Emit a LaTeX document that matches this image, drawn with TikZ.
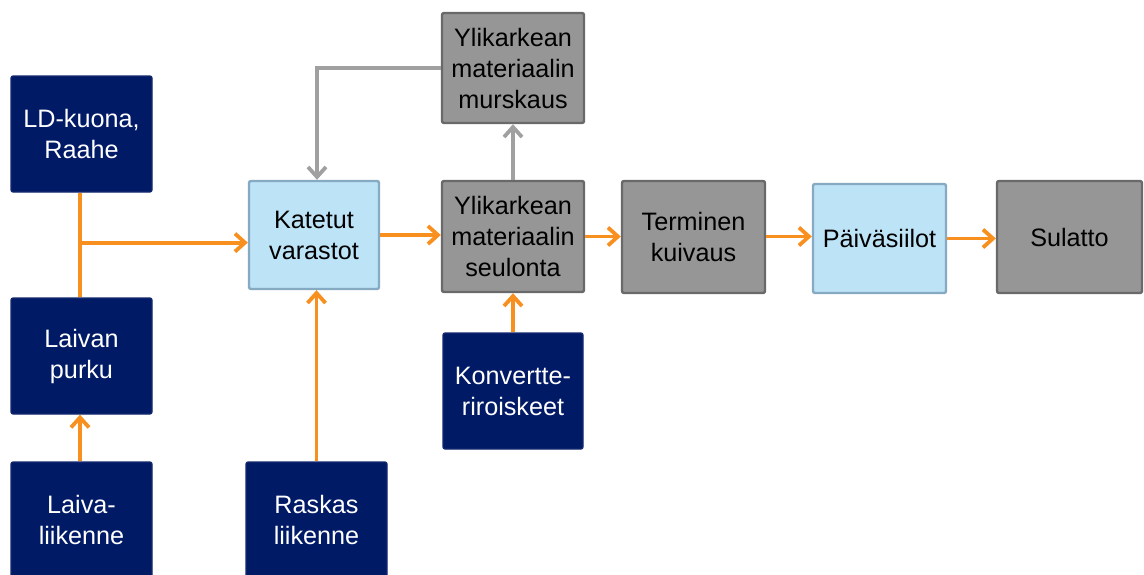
\documentclass[tikz,border=0pt]{standalone}
\usepackage{fontspec}
\setmainfont{Liberation Sans}
\usetikzlibrary{arrows.meta}
\definecolor{navy}{RGB}{0,26,102}
\definecolor{navyedge}{RGB}{20,40,110}
\definecolor{lblue}{RGB}{189,227,247}
\definecolor{lblueedge}{RGB}{135,170,195}
\definecolor{gbox}{RGB}{150,150,150}
\definecolor{gedge}{RGB}{105,105,105}
\definecolor{orangeline}{RGB}{247,144,30}
\definecolor{grayline}{RGB}{160,160,160}
\tikzset{
  basebox/.style={rectangle, rounded corners=1pt, align=center, inner sep=0pt,
    font=\fontsize{12.6}{15.5}\selectfont},
  navybox/.style={basebox, fill=navy, draw=navyedge, line width=0.6pt, text=white},
  bluebox/.style={basebox, fill=lblue, draw=lblueedge, line width=1.2pt, text=black},
  graybox/.style={basebox, fill=gbox, draw=gedge, line width=1.2pt, text=black},
  oarrow/.style={draw=orangeline, line width=1.9pt, -{Straight Barb[length=5pt,width=9pt,line width=1.9pt]}},
  oline/.style={draw=orangeline, line width=1.9pt},
  garrow/.style={draw=grayline, line width=1.9pt, -{Straight Barb[length=5pt,width=9pt,line width=1.9pt]}},
}
\begin{document}
\begin{tikzpicture}[x=0.5pt,y=-0.5pt]
\useasboundingbox (0,0) rectangle (1144,574);
% nodes
\node[navybox, minimum width=70.5pt, minimum height=58pt] (ld) at (81.5,134) {LD-kuona,\\Raahe};
\node[navybox, minimum width=70.5pt, minimum height=58pt] (lp) at (81.5,356) {Laivan\\purku};
\node[navybox, minimum width=70.5pt, minimum height=58pt] (ll) at (81.5,520) {Laiva-\\liikenne};
\node[navybox, minimum width=70.5pt, minimum height=58pt] (rl) at (316.5,520) {Raskas\\liikenne};
\node[bluebox, minimum width=65pt, minimum height=54pt] (kv) at (314,235) {Katetut\\varastot};
\node[graybox, minimum width=71pt, minimum height=55pt] (mu) at (513,68) {Ylikarkean\\materiaalin\\murskaus};
\node[graybox, minimum width=71pt, minimum height=55.5pt] (se) at (513,236.5) {Ylikarkean\\materiaalin\\seulonta};
\node[navybox, minimum width=70pt, minimum height=58pt] (ko) at (513,391) {Konvertte-\\riroiskeet};
\node[graybox, minimum width=71.5pt, minimum height=56pt] (tk) at (693.5,237) {Terminen\\kuivaus};
\node[bluebox, minimum width=66.5pt, minimum height=54.5pt] (ps) at (879.5,238.5) {Päiväsiilot};
\node[graybox, minimum width=72.5pt, minimum height=56pt] (su) at (1069.5,237) {Sulatto};
% connectors
\coordinate (j) at ([yshift=-25pt]ld.south);
\draw[oline] ([xshift=-0.75pt]ld.south) -- ([xshift=-0.75pt]lp.north);
\draw[oarrow] ([xshift=-0.75pt]j) -- (j -| kv.west);
\draw[oarrow] ([xshift=-0.75pt]ll.north) -- ([xshift=-0.75pt]lp.south);
\draw[oarrow] (rl.north) -- (rl.north |- kv.south);
\draw[oarrow] (kv.east) -- (kv.east -| se.west);
\draw[garrow] (se.north) -- (mu.south);
\coordinate (c) at ([xshift=1.5pt]kv.north |- mu.west);
\draw[garrow] (mu.west) -- (c) -- (c |- kv.north);
\draw[oarrow] (ko.north) -- (se.south);
\draw[oarrow] (se.east) -- (se.east -| tk.west);
\draw[oarrow] ([yshift=1pt]ps.west -| tk.east) -- ([yshift=1pt]ps.west);
\draw[oarrow] (ps.east) -- (ps.east -| su.west);
\end{tikzpicture}
\end{document}
